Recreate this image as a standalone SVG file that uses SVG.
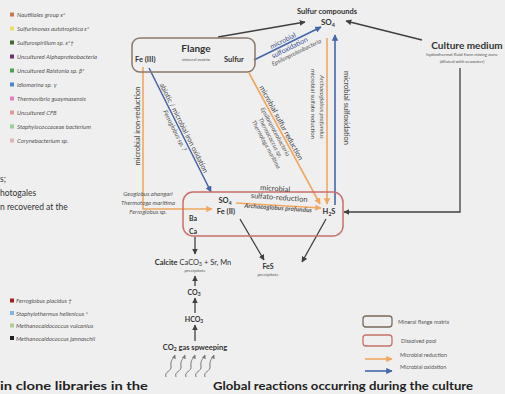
<svg xmlns="http://www.w3.org/2000/svg" width="505" height="394" viewBox="0 0 505 394">
<defs>
<style>
text{font-family:Lato,'Liberation Sans',sans-serif;fill:#333}
.lg{font-size:6px;font-style:italic;fill:#555}
.lg2{font-size:5.5px;fill:#555}
.b{font-weight:bold}
.it{font-style:italic}
.sm{font-size:4.5px;fill:#555}
.dk{stroke:#404040;stroke-width:1.3;fill:none}
.or{stroke:#f0a860;stroke-width:1.6;fill:none}
.bl{stroke:#4466aa;stroke-width:1.6;fill:none}
.sq{stroke:#777;stroke-width:1;fill:none}
</style>
<marker id="ad" viewBox="0 0 10 10" refX="9" refY="5" markerWidth="4.5" markerHeight="4.5" orient="auto"><path d="M0,0L10,5L0,10z" fill="#404040"/></marker>
<marker id="ao" viewBox="0 0 10 10" refX="9" refY="5" markerWidth="4" markerHeight="4" orient="auto"><path d="M0,0L10,5L0,10z" fill="#f0a860"/></marker>
<marker id="ab" viewBox="0 0 10 10" refX="9" refY="5" markerWidth="4" markerHeight="4" orient="auto"><path d="M0,0L10,5L0,10z" fill="#4466aa"/></marker>
<marker id="as" viewBox="0 0 10 10" refX="9" refY="5" markerWidth="4" markerHeight="4" orient="auto"><path d="M0,0L10,5L0,10z" fill="#777"/></marker>
</defs>
<rect width="505" height="394" fill="#efefef"/>

<g id="legend-top">
<rect x="10" y="12.5" width="4" height="4" fill="#c87850"/><text class="lg" x="17" y="17">Nautiliales group ε*</text>
<rect x="10" y="26.5" width="4" height="4" fill="#e8e060"/><text class="lg" x="17" y="31">Sulfurimonas autotrophica ε*</text>
<rect x="10" y="40.5" width="4" height="4" fill="#3f6a30"/><text class="lg" x="17" y="45">Sulfurospirillum sp. ε*†</text>
<rect x="10" y="54.5" width="4" height="4" fill="#703070"/><text class="lg" x="17" y="59">Uncultured Alphaproteobacteria</text>
<rect x="10" y="68.5" width="4" height="4" fill="#50a050"/><text class="lg" x="17" y="73">Uncultured Ralstonia sp. β*</text>
<rect x="10" y="82.5" width="4" height="4" fill="#4a88c8"/><text class="lg" x="17" y="87">Idiomarina sp. γ</text>
<rect x="10" y="96.5" width="4" height="4" fill="#e080c0"/><text class="lg" x="17" y="101">Thermovibrio guaymasensis</text>
<rect x="10" y="110.5" width="4" height="4" fill="#e09898"/><text class="lg" x="17" y="115">Uncultured CFB</text>
<rect x="10" y="124.5" width="4" height="4" fill="#98d098"/><text class="lg" x="17" y="129">Staphylococcaceae bacterium</text>
<rect x="10" y="138.5" width="4" height="4" fill="#e0b4b4"/><text class="lg" x="17" y="143">Corynebacterium sp.</text>
</g>

<g id="left-text">
<text x="0" y="182" style="font-size:8.5px">s;</text>
<text x="0" y="196" style="font-size:8.5px">hotogales</text>
<text x="0" y="210" style="font-size:8.5px">n recovered at the</text>
</g>

<g id="legend-bottom">
<rect x="10" y="298.5" width="4" height="4" fill="#a02020"/><text class="lg" x="16" y="303">Ferroglobus placidus †</text>
<rect x="10" y="311" width="4" height="4" fill="#80b4e0"/><text class="lg" x="16" y="315.5">Staphylothermus hellenicus *</text>
<rect x="10" y="323.5" width="4" height="4" fill="#b0d090"/><text class="lg" x="16" y="328">Methanocaldococcus vulcanius</text>
<rect x="10" y="336" width="4" height="4" fill="#202020"/><text class="lg" x="16" y="340.5">Methanocaldococcus jannaschii</text>
</g>

<g id="connectors">
<line class="dk" x1="218" y1="37" x2="305" y2="22" marker-end="url(#ad)"/>
<line class="dk" x1="422" y1="40" x2="346" y2="21" marker-end="url(#ad)"/>
<polyline class="dk" points="460,68 460,212 344,212" stroke-width="1.8" marker-end="url(#ad)"/>
<line class="bl" x1="254" y1="60" x2="321" y2="27" marker-end="url(#ab)"/>
<line class="or" x1="327" y1="38" x2="327" y2="204" marker-end="url(#ao)"/>
<line class="bl" x1="335" y1="205" x2="335" y2="35" marker-end="url(#ab)"/>
<line class="or" x1="249" y1="73" x2="320" y2="204" marker-end="url(#ao)"/>
<line class="bl" x1="149" y1="68" x2="211" y2="192" marker-end="url(#ab)"/>
<polyline class="or" points="143,67 143,209 212,209" marker-end="url(#ao)"/>
<line class="or" x1="236" y1="203" x2="321" y2="208" marker-end="url(#ao)"/>
<line class="dk" x1="240" y1="219" x2="264" y2="260" marker-end="url(#ad)"/>
<line class="dk" x1="326" y1="219" x2="302" y2="262" marker-end="url(#ad)"/>
<line class="dk" x1="195" y1="237" x2="195" y2="254" marker-end="url(#ad)"/>
<line class="dk" x1="195" y1="286" x2="195" y2="276" marker-end="url(#ad)"/>
<line class="dk" x1="195" y1="313" x2="195" y2="298" marker-end="url(#ad)"/>
<line class="dk" x1="195" y1="341" x2="195" y2="325" marker-end="url(#ad)"/>
<path class="sq" d="M166,377 C164,371 172,372 171,366 S174,358 175,355" marker-end="url(#as)"/>
<path class="sq" d="M176,377 C174,371 182,372 181,366 S184,358 185,355" marker-end="url(#as)"/>
<path class="sq" d="M186,377 C184,371 192,372 191,366 S194,358 195,355" marker-end="url(#as)"/>
<path class="sq" d="M196,377 C194,371 202,372 201,366 S204,358 205,355" marker-end="url(#as)"/>
<path class="sq" d="M205,377 C203,371 211,372 210,366 S213,358 214,355" marker-end="url(#as)"/>
</g>

<g id="flange">
<rect x="132" y="38" width="123" height="34" rx="8" fill="none" stroke="#8a7868" stroke-width="1.5"/>
<text class="b" x="196" y="52" text-anchor="middle" style="font-size:10px">Flange</text>
<text class="sm" x="196" y="61" text-anchor="middle">mineral matrix</text>
<text class="b" x="135" y="62" style="font-size:7.5px">Fe (III)</text>
<text class="b" x="224" y="62" style="font-size:7.5px">Sulfur</text>
</g>

<g id="sulfur-compounds">
<text class="b" x="327" y="14" text-anchor="middle" style="font-size:7.5px">Sulfur compounds</text>
<text class="b" x="328" y="25" text-anchor="middle" style="font-size:8px">SO<tspan font-size="5.5" dy="1.5">4</tspan></text>
</g>

<g id="culture-medium">
<text class="b" x="467" y="49" text-anchor="middle" style="font-size:10px">Culture medium</text>
<text class="sm" x="462" y="56" text-anchor="middle">hydrothermal fluid from mixing zone</text>
<text class="sm" x="462" y="62.5" text-anchor="middle">(diluted with seawater)</text>
</g>

<g id="dissolved-pool">
<rect x="183" y="192" width="160" height="44" rx="10" fill="none" stroke="#c8706a" stroke-width="1.5"/>
<text class="b" x="225" y="203" text-anchor="middle" style="font-size:7.5px">SO<tspan font-size="5" dy="1.5">4</tspan></text>
<text class="b" x="226" y="214" text-anchor="middle" style="font-size:7.5px">Fe (II)</text>
<text class="b" x="193" y="221" text-anchor="middle" style="font-size:7px">Ba</text>
<text class="b" x="193" y="234" text-anchor="middle" style="font-size:7px">Ca</text>
<text class="b" x="329" y="214" text-anchor="middle" style="font-size:7.5px">H<tspan font-size="5" dy="1.5">2</tspan><tspan dy="-1.5">S</tspan></text>
</g>

<g id="labels">
<text transform="translate(140,126) rotate(-90)" text-anchor="middle" style="font-size:7.5px;fill:#444">microbial iron-reduction</text>
<text transform="translate(181.8,129.1) rotate(63.4)" text-anchor="middle" style="font-size:7px;fill:#444">abiotic / microbial iron oxidation</text>
<text class="it" transform="translate(172.8,131.4) rotate(63.4)" text-anchor="middle" style="font-size:6.5px;fill:#555">Ferroglobus sp. ?</text>
<text transform="translate(279,124) rotate(61.5)" text-anchor="middle" style="font-size:7.5px;fill:#444">microbial sulfur reduction</text>
<text class="it" transform="translate(273.4,132.7) rotate(61.5)" text-anchor="middle" style="font-size:6px;fill:#555">Epsilonproteobacteria</text>
<text class="it" transform="translate(268.7,138.7) rotate(61.5)" text-anchor="middle" style="font-size:6px;fill:#555">Thermococcus sp.</text>
<text class="it" transform="translate(264.4,145.5) rotate(61.5)" text-anchor="middle" style="font-size:6px;fill:#555">Thermotoga maritima</text>
<text transform="translate(283.9,43) rotate(-26.2)" text-anchor="middle" style="font-size:7px;fill:#3d4f8f">microbial</text>
<text transform="translate(290.6,49.8) rotate(-26.2)" text-anchor="middle" style="font-size:7px;fill:#3d4f8f">sulfoxidation</text>
<text class="it" transform="translate(297.3,54.3) rotate(-26.2)" text-anchor="middle" style="font-size:6px;fill:#555">Epsilonproteobacteria</text>
<text transform="translate(311,104) rotate(90)" text-anchor="middle" style="font-size:6px;fill:#444">microbial sulfate reduction</text>
<text class="it" transform="translate(320,107) rotate(90)" text-anchor="middle" style="font-size:6px;fill:#555">Archaeoglobus profundus</text>
<text transform="translate(344,108) rotate(90)" text-anchor="middle" style="font-size:7.5px;fill:#444">microbial sulfoxidation</text>
<text transform="translate(275,191) rotate(4)" text-anchor="middle" style="font-size:7.5px;fill:#444">microbial</text>
<text transform="translate(279,200) rotate(4)" text-anchor="middle" style="font-size:7.5px;fill:#444">sulfato-reduction</text>
<text class="it b" transform="translate(278,210) rotate(4)" text-anchor="middle" style="font-size:6.3px;fill:#555">Archaeoglobus profundus</text>
<text class="it" x="148" y="196" text-anchor="middle" style="font-size:6px;fill:#555">Geoglobus ahangari</text>
<text class="it" x="148" y="205" text-anchor="middle" style="font-size:6px;fill:#555">Thermotoga maritima</text>
<text class="it" x="148" y="214" text-anchor="middle" style="font-size:6px;fill:#555">Ferroglobus sp.</text>
</g>

<g id="calcite">
<text x="193" y="264.5" text-anchor="middle" style="font-size:7.5px"><tspan font-weight="bold">Calcite</tspan> CaCO<tspan font-size="5" dy="1.5">3</tspan><tspan dy="-1.5"> + Sr, Mn</tspan></text>
<text class="sm" x="195" y="272" text-anchor="middle">precipitate</text>
</g>
<g id="fes">
<text class="b" x="268" y="269" text-anchor="middle" style="font-size:7px">FeS</text>
<text class="sm" x="268" y="276" text-anchor="middle">precipitate</text>
</g>
<g id="co3"><text class="b" x="194" y="294.5" text-anchor="middle" style="font-size:7px">CO<tspan font-size="5" dy="1.5">3</tspan></text></g>
<g id="hco3"><text class="b" x="194" y="321.5" text-anchor="middle" style="font-size:7px">HCO<tspan font-size="5" dy="1.5">3</tspan></text></g>
<g id="co2"><text class="b" x="195" y="349.5" text-anchor="middle" style="font-size:7.5px">CO<tspan font-size="5" dy="1.5">2</tspan><tspan dy="-1.5"> gas spweeping</tspan></text></g>

<g id="legend-right">
<rect x="363" y="316" width="29" height="11" rx="3" fill="none" stroke="#7a6a5a" stroke-width="1.3"/>
<text class="lg2" x="398" y="324">Mineral flange matrix</text>
<rect x="363" y="335" width="29" height="11" rx="3" fill="none" stroke="#c8706a" stroke-width="1.3"/>
<text class="lg2" x="401" y="343">Dissolved pool</text>
<line class="or" x1="365" y1="359" x2="392" y2="359" marker-end="url(#ao)"/>
<text class="lg2" x="400" y="357">Microbial reduction</text>
<line class="bl" x1="365" y1="371" x2="392" y2="371" marker-end="url(#ab)"/>
<text class="lg2" x="400" y="369">Microbial oxidation</text>
</g>

<g id="titles">
<text class="b" x="0" y="390" textLength="148" lengthAdjust="spacingAndGlyphs" style="font-size:12px;fill:#222">in clone libraries in the</text>
<text class="b" x="213" y="390" textLength="260" lengthAdjust="spacingAndGlyphs" style="font-size:12px;fill:#222">Global reactions occurring during the culture</text>
</g>
</svg>
